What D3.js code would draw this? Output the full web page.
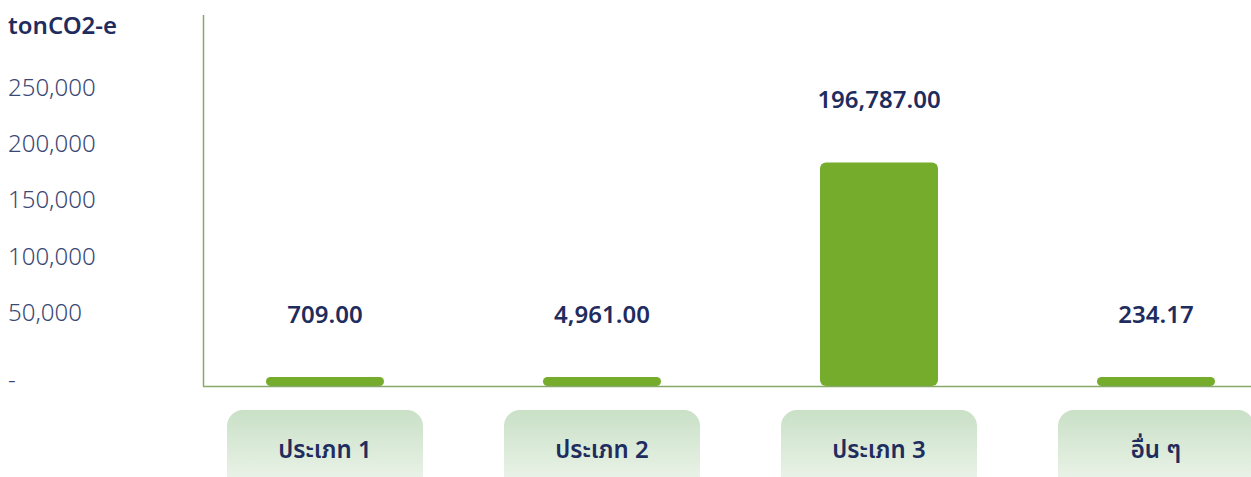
<!DOCTYPE html>
<html>
<head>
<meta charset="utf-8">
<script src="https://cdn.jsdelivr.net/npm/d3@7/dist/d3.min.js"></script>
<style>
  html, body { margin: 0; padding: 0; background: #ffffff; }
  svg { display: block; }
  text { font-family: "Noto Sans Thai", "Noto Sans", "Open Sans", sans-serif; }
</style>
</head>
<body>
<svg id="chart" width="1251" height="477"></svg>
<script>
// Emissions by category (tonCO2-e)
const categories = ["ประเภท 1", "ประเภท 2", "ประเภท 3", "อื่น ๆ"];
const values = [709.00, 4961.00, 196787.00, 234.17];
const valueLabels = ["709.00", "4,961.00", "196,787.00", "234.17"];
const tickValues = [0, 50000, 100000, 150000, 200000, 250000];
const tickLabels = ["-", "50,000", "100,000", "150,000", "200,000", "250,000"];
const unitLabel = "tonCO2-e";

const W = 1251, H = 477;
const svg = d3.select("#chart");

const navy = "#1f2c5e";
const tickColor = "#3a4876";
const barColor = "#75ac2b";
const axisColor = "#86a96a";

const baseY = 386;
const y = d3.scaleLinear().domain([0, 250000]).range([baseY, 102]);
const x = d3.scalePoint().domain(categories).range([186.5, 1294.5]).padding(0.5);
const barW = 118, pillW = 196;
const minBarH = 9;
const barH = d => Math.max(baseY - y(d), minBarH);

// gradient for category tabs
const defs = svg.append("defs");
const grad = defs.append("linearGradient").attr("id", "tabGrad")
  .attr("x1", 0).attr("y1", 0).attr("x2", 0).attr("y2", 1);
grad.append("stop").attr("offset", "0%").attr("stop-color", "#c9e0c6");
grad.append("stop").attr("offset", "100%").attr("stop-color", "#f8fbf7");

// unit title
svg.append("text").attr("x", 8).attr("y", 34)
  .attr("font-size", 24).attr("font-weight", 600).attr("fill", navy)
  .text(unitLabel);

// y tick labels (scale ticks are 56.8px apart; labels sit slightly tighter)
svg.append("g").selectAll("text").data(tickValues).join("text")
  .attr("x", 8).attr("y", d => d === 0 ? y(d) + 2 : y(d) - 6 - (250000 - d) / 50000 * 0.6)
  .attr("font-size", 24).attr("font-weight", 300).attr("fill", tickColor)
  .text((d, i) => tickLabels[i]);

// axes
svg.append("line").attr("x1", 203.5).attr("x2", 203.5).attr("y1", 15).attr("y2", baseY)
  .attr("stroke", axisColor).attr("stroke-width", 1.5);

// bars
svg.append("g").selectAll("rect").data(values).join("rect")
  .attr("x", (d, i) => x(categories[i]) - barW / 2)
  .attr("width", barW)
  .attr("y", d => baseY - barH(d))
  .attr("height", d => barH(d))
  .attr("rx", d => Math.min(6, barH(d) / 2))
  .attr("fill", barColor);

svg.append("line").attr("x1", 203).attr("x2", W).attr("y1", baseY + 0.5).attr("y2", baseY + 0.5)
  .attr("stroke", axisColor).attr("stroke-width", 1.5);

// value labels
svg.append("g").selectAll("text").data(values).join("text")
  .attr("x", (d, i) => x(categories[i]))
  .attr("y", d => baseY - barH(d) - 54)
  .attr("text-anchor", "middle")
  .attr("font-size", 24).attr("font-weight", 600).attr("fill", navy)
  .text((d, i) => valueLabels[i]);

// category tabs
const tabs = svg.append("g").selectAll("g").data(categories).join("g")
  .attr("transform", d => `translate(${x(d) - pillW / 2},410)`);
tabs.append("rect").attr("width", pillW).attr("height", 100).attr("rx", 16)
  .attr("fill", "url(#tabGrad)");
tabs.append("text").attr("x", pillW / 2).attr("y", 48)
  .attr("text-anchor", "middle")
  .attr("font-size", 24).attr("font-weight", 600).attr("fill", navy)
  .text(d => d);
</script>
</body>
</html>
